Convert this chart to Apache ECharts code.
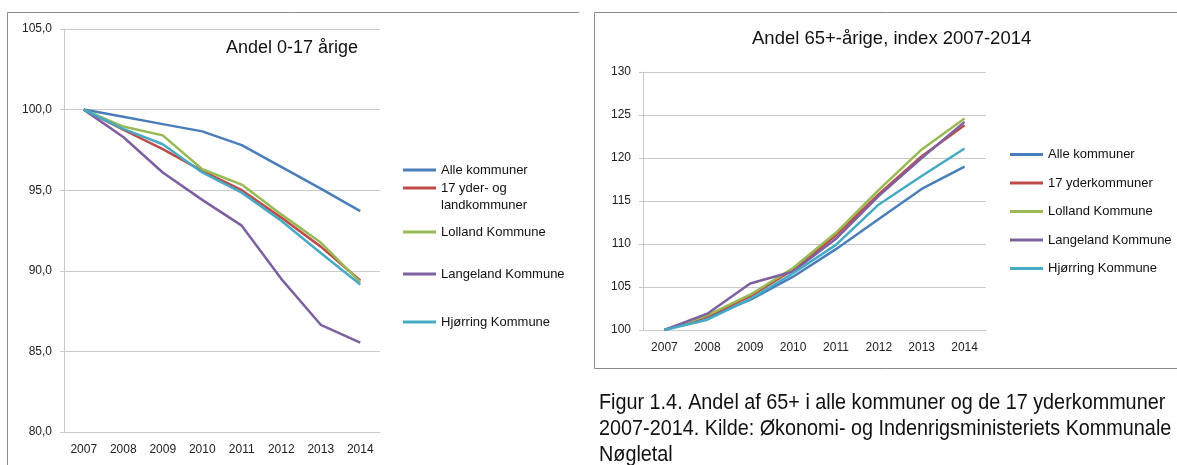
<!DOCTYPE html>
<html>
<head>
<meta charset="utf-8">
<script src="https://cdn.jsdelivr.net/npm/echarts@6/dist/echarts.min.js"></script>
<style>
  html, body { margin: 0; padding: 0; background: #fff; }
  #chart { width: 1177px; height: 465px; }
</style>
</head>
<body>
<div id="chart"></div>
<script>
// Andel 0-17 årige og andel 65+-årige (index 2007 = 100), 2007-2014.
const YEARS = ['2007', '2008', '2009', '2010', '2011', '2012', '2013', '2014']

// Venstre figur: Andel 0-17 årige
const YOUNG_NAMES = ['Alle kommuner', '17 yder- og landkommuner', 'Lolland Kommune', 'Langeland Kommune', 'Hjørring Kommune']
const YOUNG_ALLE = [100, 99.55, 99.1, 98.65, 97.8, 96.45, 95.1, 93.7]
const YOUNG_YDER = [100, 98.75, 97.55, 96.2, 95.0, 93.3, 91.5, 89.4]
const YOUNG_LOLLAND = [100, 98.95, 98.4, 96.3, 95.35, 93.5, 91.75, 89.3]
const YOUNG_LANGELAND = [100, 98.3, 96.1, 94.4, 92.8, 89.5, 86.65, 85.55]
const YOUNG_HJORRING = [100, 98.8, 97.85, 96.1, 94.85, 93.1, 91.1, 89.15]

// Højre figur: Andel 65+-årige, index 2007-2014
const OLD_NAMES = ['Alle kommuner', '17 yderkommuner', 'Lolland Kommune', 'Langeland Kommune', 'Hjørring Kommune']
const OLD_ALLE = [100, 101.5, 103.5, 106.2, 109.4, 112.9, 116.4, 119.0]
const OLD_YDER = [100, 101.6, 103.9, 107.0, 111.0, 115.8, 120.2, 123.8]
const OLD_LOLLAND = [100, 101.7, 104.1, 107.2, 111.3, 116.3, 121.0, 124.6]
const OLD_LANGELAND = [100, 101.9, 105.4, 106.8, 110.6, 115.6, 120.0, 124.2]
const OLD_HJORRING = [100, 101.2, 103.6, 106.6, 109.9, 114.6, 117.9, 121.1]

const COLORS = ['#4a7ebb', '#be4b48', '#98b954', '#7d60a0', '#46aac5']
const CAPTION = [
  'Figur 1.4. Andel af 65+ i alle kommuner og de 17 yderkommuner',
  '2007-2014. Kilde: Økonomi- og Indenrigsministeriets Kommunale',
  'Nøgletal'
]

const FONT = '"Liberation Sans", Arial, sans-serif'
const GRID_C = '#c9c9c9'
const chart = echarts.init(document.getElementById('chart'))

const youngData = [YOUNG_ALLE, YOUNG_YDER, YOUNG_LOLLAND, YOUNG_LANGELAND, YOUNG_HJORRING]
const oldData = [OLD_ALLE, OLD_YDER, OLD_LOLLAND, OLD_LANGELAND, OLD_HJORRING]

function xAxis(grid) {
  return {
    type: 'category', gridIndex: grid, data: YEARS,
    axisLine: { lineStyle: { color: GRID_C } },
    axisTick: { length: 5, lineStyle: { color: GRID_C } },
    axisLabel: { color: '#222', fontSize: 12, fontFamily: FONT, margin: 12 }
  }
}
function yAxis(grid, min, max, fmt) {
  return {
    type: 'value', gridIndex: grid, min, max, interval: 5,
    axisLine: { show: true, lineStyle: { color: GRID_C } },
    axisTick: { show: true, length: 4, lineStyle: { color: GRID_C } },
    splitLine: { lineStyle: { color: GRID_C } },
    axisLabel: { color: '#222', fontSize: 12, fontFamily: FONT, margin: 12, formatter: fmt }
  }
}
function lines(names, data, idx) {
  return names.map((n, i) => ({
    name: n, type: 'line', xAxisIndex: idx, yAxisIndex: idx,
    data: data[i], showSymbol: false, symbol: 'none',
    lineStyle: { width: 2.5, color: COLORS[i] }, itemStyle: { color: COLORS[i] },
    emphasis: { disabled: true }
  }))
}

// venstre legend: én komponent pr. post (ujævn afstand som i originalen)
const LEFT_LEG_TOP = [156.5, 157.5, 218.5, 260.5, 308.5]
const leftLegends = YOUNG_NAMES.map((n, i) => ({
  left: 398, top: LEFT_LEG_TOP[i], orient: 'vertical',
  data: [{ name: n, itemStyle: { color: COLORS[i] } }],
  icon: 'rect', itemWidth: 33, itemHeight: 3,
  // tom første linje, så ikonet flugter med første tekstlinje
  formatter: nm => nm === '17 yder- og landkommuner' ? '\u00a0\n17 yder- og\nlandkommuner' : nm,
  textStyle: { color: '#111', fontSize: 13, fontFamily: FONT, lineHeight: 17 },
  selectedMode: false
}))

chart.setOption({
  animation: false,
  title: [
    { text: 'Andel 0-17 årige', left: 221, top: 34,
      textStyle: { fontSize: 18, fontWeight: 'normal', color: '#111', fontFamily: FONT } },
    { text: 'Andel 65+-årige, index 2007-2014', left: 747, top: 24,
      textStyle: { fontSize: 18.5, fontWeight: 'normal', color: '#111', fontFamily: FONT } }
  ],
  legend: leftLegends.concat([{
    left: 1005, top: 143, orient: 'vertical',
    data: OLD_NAMES.map((n, i) => ({ name: n, itemStyle: { color: COLORS[i] } })),
    icon: 'rect', itemWidth: 33, itemHeight: 3, itemGap: 15.5,
    textStyle: { color: '#111', fontSize: 13, fontFamily: FONT },
    selectedMode: false
  }]),
  grid: [
    { left: 64, top: 29, width: 316, height: 403 },
    { left: 643, top: 72, width: 343, height: 258 }
  ],
  xAxis: [xAxis(0), xAxis(1)],
  yAxis: [
    yAxis(0, 80, 105, v => v.toFixed(1).replace('.', ',')),
    yAxis(1, 100, 130, v => String(v))
  ],
  series: lines(YOUNG_NAMES, youngData, 0).concat(lines(OLD_NAMES, oldData, 1)),
  graphic: [
    { type: 'polyline', shape: { points: [[7.5, 470], [7.5, 12.5], [579, 12.5]] },
      style: { stroke: '#8a8a8a', lineWidth: 1, fill: null }, silent: true },
    { type: 'polyline', shape: { points: [[1180, 12.5], [594.5, 12.5], [594.5, 368.5], [1180, 368.5]] },
      style: { stroke: '#8a8a8a', lineWidth: 1, fill: null }, silent: true },
    // smal skrift (Arial Narrow-agtig) via vandret skalering
    { type: 'text', x: 599, y: 390, scaleX: 0.9, silent: true,
      style: {
        text: CAPTION.join('\n'), fill: '#111', lineHeight: 26,
        font: '22px "Liberation Sans", Arial, sans-serif'
      } }
  ]
})
</script>
</body>
</html>
